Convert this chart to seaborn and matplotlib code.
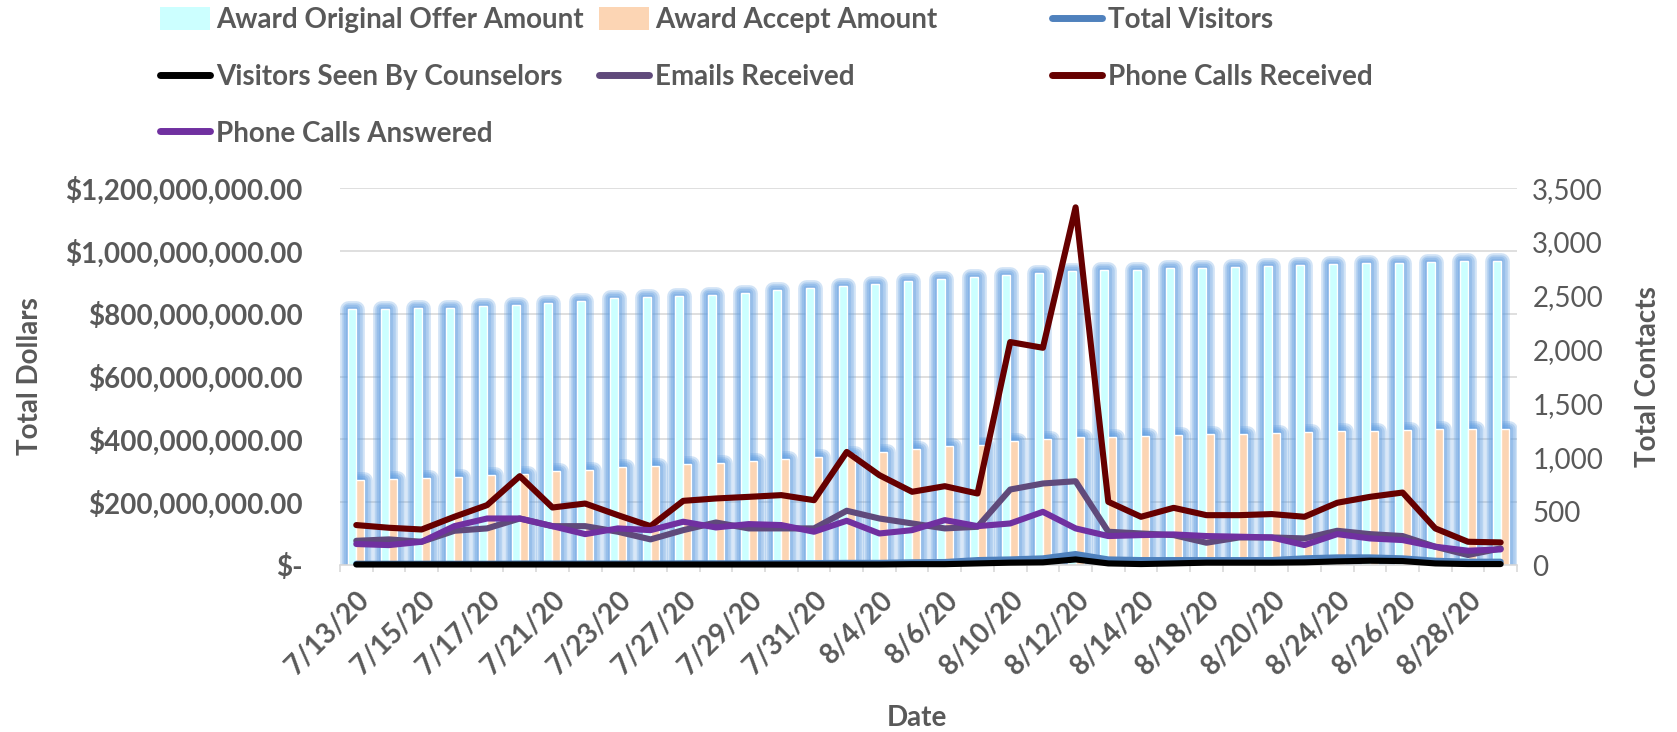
import numpy as np
import pandas as pd
import matplotlib
matplotlib.use('Agg')
import matplotlib.pyplot as plt
import matplotlib.patheffects as pe
from matplotlib.lines import Line2D
from matplotlib.patches import Patch
from matplotlib.ticker import FuncFormatter, MultipleLocator
import seaborn as sns

# ---- data ----
dates = ['7/13/20', '7/14/20', '7/15/20', '7/16/20', '7/17/20', '7/20/20', '7/21/20',
         '7/22/20', '7/23/20', '7/24/20', '7/27/20', '7/28/20', '7/29/20', '7/30/20',
         '7/31/20', '8/3/20', '8/4/20', '8/5/20', '8/6/20', '8/7/20', '8/10/20',
         '8/11/20', '8/12/20', '8/13/20', '8/14/20', '8/17/20', '8/18/20', '8/19/20',
         '8/20/20', '8/21/20', '8/24/20', '8/25/20', '8/26/20', '8/27/20', '8/28/20',
         '8/31/20']

# dollars, in millions
offer_amount = [813.6, 814.6, 816.7, 818.9, 823, 827, 834.7, 842, 848.5, 852.8, 857, 860,
                866.5, 874, 882, 889.8, 894, 903.6, 911, 916, 924.8, 930, 935.6, 938.8,
                940.7, 944, 947, 950, 952, 955.5, 958.6, 960.8, 962, 966, 967, 969]
accept_amount = [270, 273, 276.5, 279.7, 285, 291, 299, 304, 311, 315.7, 321, 324,
                 331.6, 338, 344, 352, 360, 369.7, 378, 383.5, 395, 401.5, 406, 408,
                 410, 413, 416, 418, 420.6, 422.7, 426, 428, 430, 432, 433, 434]

# contacts
total_visitors = [12, 12, 12, 12, 12, 14, 14, 14, 14, 14, 16, 16, 16, 18, 18, 20, 20, 25,
                  28, 46, 52, 62, 102, 52, 46, 46, 46, 46, 46, 62, 71, 71, 62, 40, 31, 31]
visitors_seen = [5, 5, 5, 5, 5, 5, 5, 5, 5, 5, 5, 5, 5, 5, 5, 5, 5, 8,
                 8, 15, 22, 25, 52, 15, 9, 15, 22, 22, 22, 25, 34, 40, 37, 15, 9, 9]
emails_received = [225, 238, 216, 318, 340, 432, 361, 361, 309, 238, 324, 395,
                   340, 340, 340, 504, 432, 386, 340, 355, 701, 757, 778, 309,
                   293, 278, 207, 256, 256, 247, 318, 287, 269, 170, 93, 154]
calls_received = [371, 346, 330, 448, 556, 825, 534, 571, 463, 361, 596, 618,
                  633, 649, 602, 1050, 834, 680, 732, 664, 2070, 2017, 3321, 587,
                  448, 531, 463, 463, 473, 448, 578, 633, 673, 340, 216, 210]
calls_answered = [195, 185, 216, 361, 432, 432, 361, 287, 340, 324, 402, 349,
                  380, 371, 309, 411, 293, 324, 417, 361, 386, 494, 340, 269,
                  278, 284, 269, 263, 256, 185, 287, 247, 232, 170, 133, 145]

bar_names = ['Award Original Offer Amount', 'Award Accept Amount']
bar_colors = ['#ccffff', '#fcd5b4']
line_names = ['Total Visitors', 'Visitors Seen By Counselors', 'Emails Received',
              'Phone Calls Received', 'Phone Calls Answered']
line_colors = ['#4f81bd', '#000000', '#604a7b', '#660000', '#7030a0']

n = len(dates)
bars = pd.DataFrame({
    'Date': dates * 2,
    'Amount': np.array(offer_amount + accept_amount) * 1e6,
    'Series': [bar_names[0]] * n + [bar_names[1]] * n,
})
lines = pd.DataFrame({
    'Date': dates * 5,
    'Count': total_visitors + visitors_seen + emails_received + calls_received + calls_answered,
    'Series': sum([[s] * n for s in line_names], []),
})

# ---- style ----
sns.set_style('white')
plt.rcParams['font.family'] = ['Lato', 'DejaVu Sans']
plt.rcParams['lines.solid_capstyle'] = 'round'
plt.rcParams['lines.solid_joinstyle'] = 'round'
gray = '#595959'
fs = 20

fig = plt.figure(figsize=(16.77, 7.32), dpi=100)
ax = fig.add_axes([0.2027, 0.2281, 0.7019, 0.5150])

# glow pass (blue halo behind the bars), then the bars themselves
sns.barplot(data=bars, x='Date', y='Amount', hue='Series', palette=bar_colors,
            width=0.49, saturation=1, errorbar=None, legend=False, ax=ax, zorder=1)
glow = [pe.Stroke(linewidth=w, foreground='#5b9be0', alpha=0.28, joinstyle='round')
        for w in (12, 9, 6, 3)]
for p in ax.patches:
    p.set_path_effects(glow)
sns.barplot(data=bars, x='Date', y='Amount', hue='Series', palette=bar_colors,
            width=0.49, saturation=1, errorbar=None, legend=False, ax=ax, zorder=2)

ax.set_ylim(0, 1.2e9)
ax.yaxis.set_major_locator(MultipleLocator(2e8))
ax.yaxis.set_major_formatter(FuncFormatter(lambda v, p: '$-' if v == 0 else f'${v:,.2f}'))
ax.yaxis.grid(True, color='#d9d9d9', linewidth=1.2)
ax.set_axisbelow(True)
for s in ['left', 'right', 'top']:
    ax.spines[s].set_visible(False)
ax.spines['bottom'].set_color('#d9d9d9')
ax.spines['bottom'].set_linewidth(1.2)

# secondary axis with the contact lines
ax2 = ax.twinx()
sns.lineplot(data=lines, x='Date', y='Count', hue='Series', hue_order=line_names,
             palette=line_colors, linewidth=4.4, sort=False, legend=False, ax=ax2)
for ln in ax2.lines:
    ln.set_clip_on(False)
ax2.set_ylim(0, 3500)
ax2.yaxis.set_major_locator(MultipleLocator(500))
ax2.yaxis.set_major_formatter(FuncFormatter(lambda v, p: f'{v:,.0f}'))
ax2.grid(False)
for s in ax2.spines.values():
    s.set_visible(False)

# x ticks: every other date labelled, tick marks on category boundaries
ax.set_xticks(range(0, n, 2))
ax.set_xticklabels(dates[::2], rotation=45, ha='right', va='top', rotation_mode='anchor',
                   fontweight='bold', color=gray, fontsize=fs)
ax.set_xticks(np.arange(-0.5, n, 1), minor=True)
ax.tick_params(axis='x', which='major', length=0, pad=15)
ax.tick_params(axis='x', which='minor', length=5, color='#d9d9d9', width=1.2, bottom=True)
ax.set_xlim(-0.5, n - 0.5)

ax.tick_params(axis='y', length=0, pad=27, labelsize=fs, labelcolor=gray)
for lab in ax.get_yticklabels():
    lab.set_fontweight('bold')
ax2.tick_params(axis='y', length=0, pad=11, labelsize=fs, labelcolor=gray)

ax.set_xlabel('Date', fontsize=fs, fontweight='bold', color=gray)
ax.xaxis.set_label_coords(0.49, -0.37)
ax.set_ylabel('Total Dollars', fontsize=fs, fontweight='bold', color=gray)
ax.yaxis.set_label_coords(-0.252, 0.5)
ax2.set_ylabel('Total Contacts', fontsize=fs, fontweight='bold', color=gray)
ax2.yaxis.set_label_coords(1.1, 0.5)

# legend: three columns, filled row by row
def bar_handle(i):
    return Patch(facecolor=bar_colors[i], edgecolor='none', label=bar_names[i])

def line_handle(i):
    return Line2D([0], [0], color=line_colors[i], linewidth=5, label=line_names[i])

columns = [
    [bar_handle(0), line_handle(1), line_handle(4)],
    [bar_handle(1), line_handle(2)],
    [line_handle(0), line_handle(3)],
]
for x0, handles in zip([160, 599, 1052], columns):
    leg = fig.legend(handles=handles, loc='upper left', bbox_to_anchor=(x0 / 1677, 0.99),
                     frameon=False, fontsize=fs, handlelength=1.8, handleheight=0.9,
                     handletextpad=0.22, labelspacing=1.1, borderpad=0, borderaxespad=0)
    for t in leg.get_texts():
        t.set_color(gray)
        t.set_fontweight('bold')

fig.savefig('out.png', dpi=100)
